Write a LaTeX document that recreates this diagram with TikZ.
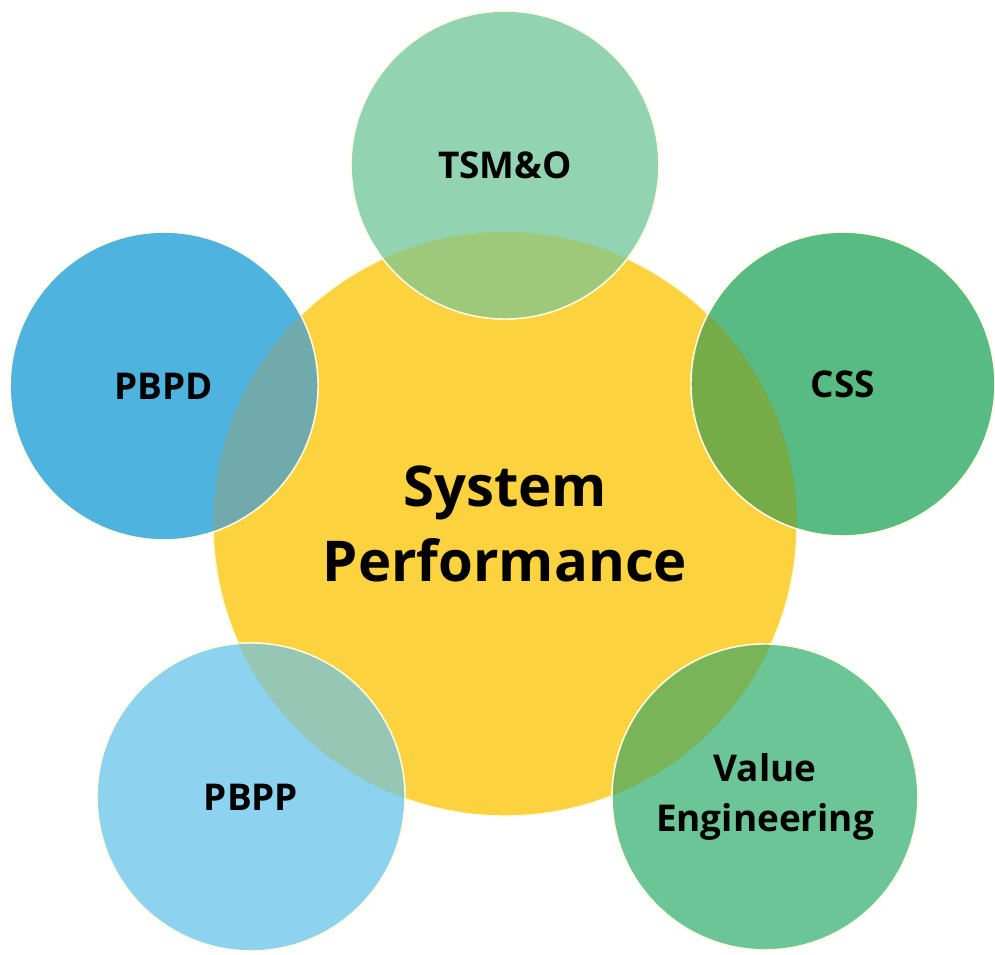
\documentclass[tikz,border=0pt]{standalone}
\usepackage{fontspec}
\setmainfont{Open Sans}
\usetikzlibrary{positioning}

\definecolor{hubyellow}{RGB}{252,210,62}
\definecolor{tsmgreen}{RGB}{146,212,178}
\definecolor{pbpdblue}{RGB}{79,179,224}
\definecolor{cssgreen}{RGB}{88,187,132}
\definecolor{vegreen}{RGB}{108,197,151}
\definecolor{pbppblue}{RGB}{141,211,240}
% where an outer circle lies over the yellow one
\definecolor{tsmlens}{RGB}{158,201,122}
\definecolor{pbpdlens}{RGB}{112,170,172}
\definecolor{csslens}{RGB}{118,172,72}
\definecolor{velens}{RGB}{122,180,88}
\definecolor{pbpplens}{RGB}{150,198,180}
\definecolor{rimcream}{RGB}{255,250,225}

\tikzset{
  rim/.style={draw=rimcream, line width=0.8pt},
  hub/.style={circle, fill=hubyellow, rim,
    minimum size=11.68cm, inner sep=0pt, align=center,
    font=\fontsize{32}{43}\selectfont\bfseries},
  petal/.style={circle, fill=#1, rim,
    minimum size=6.16cm, inner sep=0pt, align=center,
    font=\fontsize{21}{28}\selectfont\bfseries}
}

\begin{document}
\begin{tikzpicture}
			\useasboundingbox (0,0) rectangle (19.9,19.08);
			% centre
			\node[hub] (sp) at (10.10, 8.60) {System\\Performance};
			
			% outer circles
			\node[petal=tsmgreen] (tsmo) at (10.10, 15.78) {TSM\&O};
			\node[petal=pbpdblue] (pbpd) at (3.28, 11.36) {PBPD};
			\node[petal=cssgreen, minimum size=6.08cm] (css) at (16.86, 11.40) {CSS};
			\node[petal=pbppblue] (pbpp) at (5.02, 3.14) {PBPP};
			\node[petal=vegreen, minimum size=6.12cm] (ve) at (15.30, 3.14) {Value\\Engineering};
			
			% overlaps with the centre, then the rims again
			\foreach \n/\r/\c in {tsmo/3.08/tsmlens, pbpd/3.08/pbpdlens, css/3.04/csslens,
			                      pbpp/3.08/pbpplens, ve/3.06/velens}{
			  \begin{scope}
			    \clip (sp.center) circle (5.84);
			    \fill[\c] (\n.center) circle (\r);
			  \end{scope}
			  \draw[rim] (\n.center) circle (\r);
			}
		\end{tikzpicture}
\end{document}
